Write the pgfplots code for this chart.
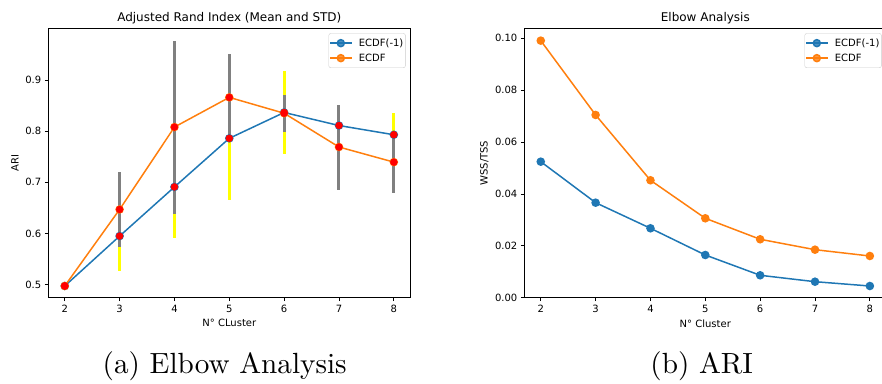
\documentclass[border=0pt]{standalone}
\usepackage{fontspec}
\usepackage{pgfplots}
\pgfplotsset{compat=1.18}
\usepackage{pgfplotstable}
\newfontfamily\djv{DejaVu Sans}
\newfontfamily\lmten{lmroman10-regular.otf}
\definecolor{mplblue}{HTML}{1F77B4}
\definecolor{mplorange}{HTML}{FF7F0E}
\definecolor{ebgray}{RGB}{128,128,128}
\definecolor{ebyellow}{RGB}{255,255,0}

\pgfplotstableread{
x m1 s1 m2 s2
2 0.4975 0.0 0.4975 0.0
3 0.595 0.068 0.647 0.073
4 0.691 0.099 0.808 0.169
5 0.786 0.121 0.866 0.084
6 0.8365 0.081 0.835 0.036
7 0.811 0.035 0.769 0.083
8 0.793 0.042 0.7395 0.061
}\ari

\pgfplotstableread{
x b o
2 0.05244 0.0991
3 0.03663 0.07045
4 0.02676 0.04527
5 0.01646 0.03061
6 0.00864 0.02252
7 0.00617 0.01851
8 0.00451 0.01608
}\wss

\pgfplotsset{
  mplstyle/.style={
    scale only axis, width=362pt, height=269pt, anchor=south west,
    xmin=1.7, xmax=8.3, xtick={2,...,8},
    axis line style={line width=0.8pt},
    tick align=outside, major tick length=3.5pt,
    every tick/.style={black, line width=0.8pt},
    xtick pos=bottom, ytick pos=left,
    /pgf/number format/assume math mode=true,
    ticklabel style={font=\djv\fontsize{10}{12}\selectfont},
    every axis title/.style={font=\djv\fontsize{12}{14}\selectfont, at={(rel axis cs:0.5,1)}, anchor=center, yshift=10.5pt},
    every axis x label/.style={font=\djv\fontsize{10}{12}\selectfont, at={(rel axis cs:0.5,0)}, anchor=center, yshift=-25.6pt},
    legend style={at={(rel axis cs:1,1)}, anchor=north east, xshift=-4.7pt, yshift=-4.6pt,
      draw=black!20, rounded corners=2pt, fill=white, fill opacity=0.8, text opacity=1,
      font=\djv\fontsize{10}{12}\selectfont, inner xsep=0.5pt, inner ysep=3.6pt,
      nodes={inner sep=1.5pt}, row sep=3pt,
      /tikz/every odd column/.append style={column sep=5pt}},
    legend cell align=left,
    legend image code/.code={\draw[mark repeat=2, mark phase=2] plot coordinates {(0pt,0pt) (10.8pt,0pt) (21.6pt,0pt)};},
  },
}

\begin{document}
\begin{tikzpicture}[x=1pt,y=1pt]
\useasboundingbox (0,0) rectangle (882,383);

\begin{axis}[mplstyle, at={(48.3pt,85.3pt)},
  ymin=0.4746, ymax=1.0002, ytick={0.5,0.6,0.7,0.8,0.9},
  yticklabel style={/pgf/number format/.cd, fixed, precision=1},
  title={Adjusted Rand Index (Mean and STD)},
  xlabel={N° CLuster}, ylabel={ARI},
  every axis y label/.style={font=\djv\fontsize{10}{12}\selectfont, at={(rel axis cs:0,0.5)}, xshift=-33.3pt, rotate=90, anchor=center},
]
\addplot[draw=none, forget plot, error bars/.cd, y dir=both, y explicit,
  error mark=none, error bar style={draw=ebyellow, line width=3pt}]
  table[x=x, y=m1, y error=s1] {\ari};
\addplot[draw=none, forget plot, error bars/.cd, y dir=both, y explicit,
  error mark=none, error bar style={draw=ebgray, line width=3pt}]
  table[x=x, y=m2, y error=s2] {\ari};
\addplot[mplblue, line width=1.5pt, mark=*, mark size=3.5pt, mark options={draw=mplblue, fill=mplblue}] table[x=x, y=m1] {\ari};
\addlegendentry{ECDF(-1)\hspace{3pt}}
\addplot[mplorange, line width=1.5pt, mark=*, mark size=3.5pt, mark options={draw=mplorange, fill=mplorange}] table[x=x, y=m2] {\ari};
\addlegendentry{ECDF}
\addplot[only marks, forget plot, mark=*, mark size=3.5pt, red, mark options={draw=red, fill=red}] table[x=x, y=m1] {\ari};
\addplot[only marks, forget plot, mark=*, mark size=3.5pt, red, mark options={draw=red, fill=red}] table[x=x, y=m2] {\ari};
\end{axis}

\begin{axis}[mplstyle, at={(524.3pt,85.3pt)},
  ymin=0, ymax=0.1037, ytick={0,0.02,0.04,0.06,0.08,0.1},
  yticklabel style={/pgf/number format/.cd, fixed, fixed zerofill, precision=2},
  title={Elbow Analysis},
  xlabel={N° Cluster}, ylabel={WSS/TSS},
  every axis y label/.style={font=\djv\fontsize{10}{12}\selectfont, at={(rel axis cs:0,0.5)}, xshift=-40pt, rotate=90, anchor=center},
]
\addplot[mplblue, line width=1.5pt, mark=*, mark size=3.5pt, mark options={draw=mplblue, fill=mplblue}] table[x=x, y=b] {\wss};
\addlegendentry{ECDF(-1)\hspace{3pt}}
\addplot[mplorange, line width=1.5pt, mark=*, mark size=3.5pt, mark options={draw=mplorange, fill=mplorange}] table[x=x, y=o] {\wss};
\addlegendentry{ECDF}
\end{axis}

\node[anchor=base, font=\lmten\fontsize{29.2}{32}\selectfont] at (224.7,9.2) {(a) Elbow Analysis};
\node[anchor=base, font=\lmten\fontsize{29.2}{32}\selectfont] at (701.7,9.2) {(b) ARI};
\end{tikzpicture}
\end{document}
